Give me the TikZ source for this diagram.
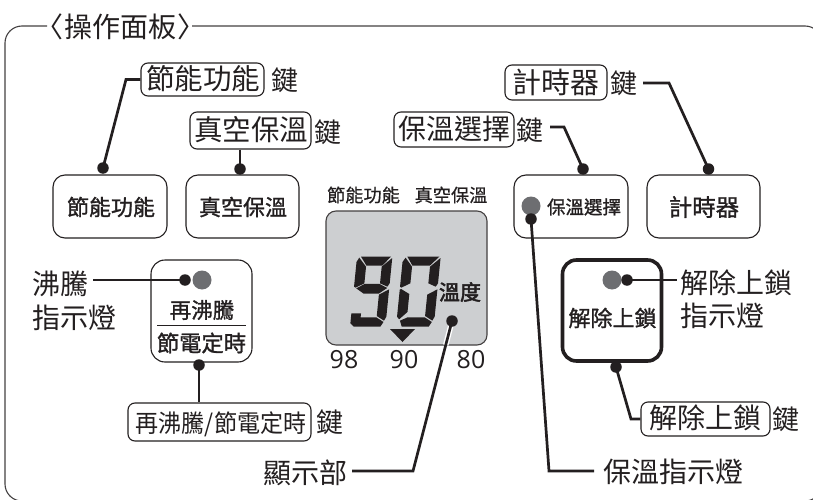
\documentclass[tikz,border=0pt]{standalone}
\usepackage{fontspec}
\usetikzlibrary{calc}
\setmainfont{Noto Sans CJK TC}
\newfontfamily\lowf[FakeBold=0.5]{Noto Sans CJK TC}
\newfontfamily\medf[FakeBold=1.2]{Noto Sans CJK TC}
\newfontfamily\hvyf[FakeBold=2.5]{Noto Sans CJK TC}
\newfontfamily\numf{Open Sans}
\newcommand{\fsz}[1]{\fontsize{#1}{#1}\selectfont}
\definecolor{ink}{HTML}{231F20}
\definecolor{lcdgray}{HTML}{CDCFD1}
\definecolor{ledgray}{HTML}{6D6E71}
\tikzset{
  lbl/.style={inner sep=0pt,text=ink,font=\fsz{#1}},
  medlbl/.style={inner sep=0pt,text=ink,font=\medf\fsz{#1}},
  lowlbl/.style={inner sep=0pt,text=ink,font=\lowf\fsz{#1}},
  numlbl/.style={inner sep=0pt,text=ink,font=\numf\fsz{25}},
  keybox/.style={draw=ink,line width=1.1pt,rounded corners=7pt,fill=white,inner sep=0pt},
  btnbox/.style={draw=ink,line width=1.1pt,rounded corners=12pt,fill=white,inner sep=0pt},
  dotn/.style={circle,fill=ink,inner sep=0pt,minimum size=11.5pt},
  led/.style={circle,fill=ledgray,inner sep=0pt,minimum size=19pt},
  wire/.style={draw=ink,line width=2.7pt,line join=miter},
  seg/.style={fill=ink}
}
\begin{document}
\begin{tikzpicture}[x=1pt,y=-1pt]
\useasboundingbox (0,0) rectangle (813,500);
\fill[white] (0,0) rectangle (813,500);
% outer frame
\draw[ink!85,line width=1.1pt,rounded corners=17pt] (192,26) -- (822,26) -- (822,501) -- (5,501) -- (5,26) -- (47,26);
\node[lbl=28] (titlea) at (120.5,27) {操作面板};
\node[lbl=28] (titleb) at (49,27) {〈};
\node[lbl=28] (titlec) at (191,27) {〉};
% buttons
\node[btnbox,minimum width=114pt,minimum height=63pt] (b1) at (110,206.5) {};
\node[btnbox,minimum width=113pt,minimum height=63pt] (b2) at (242.5,206.5) {};
\node[btnbox,minimum width=114pt,minimum height=63pt] (b3) at (571,206.5) {};
\node[btnbox,minimum width=113pt,minimum height=63pt] (b4) at (703.5,206.5) {};
\node[medlbl=22] (b1t) at (111,207) {節能功能};
\node[medlbl=22] (b2t) at (243,207) {真空保溫};
\node[medlbl=18.5] (b3t) at (584,207) {保溫選擇};
\node[medlbl=23.5] (b4t) at (704,207) {計時器};
\node[led] (led3) at (531,206) {};
% keys
\node[keybox,minimum width=123pt,minimum height=33pt] (k1) at (202.5,79.5) {};
\node[lbl=28.5] (k1t) at (203,79) {節能功能};
\node[lbl=27] (k1j) at (285,80) {鍵};
\node[keybox,minimum width=121pt,minimum height=37pt] (k2) at (250.5,130.5) {};
\node[lbl=28.5] (k2t) at (251,130) {真空保溫};
\node[lbl=27] (k2j) at (328,132) {鍵};
\node[keybox,minimum width=120pt,minimum height=35pt] (k3) at (454,129.5) {};
\node[lbl=28] (k3t) at (454,129) {保溫選擇};
\node[lbl=27] (k3j) at (530,130) {鍵};
\node[keybox,minimum width=102pt,minimum height=35pt] (k4) at (556,82.5) {};
\node[lbl=29] (k4t) at (556,82) {計時器};
\node[lbl=27] (k4j) at (624,83) {鍵};
% LCD
\node[draw=ink!85,line width=1.1pt,fill=lcdgray,rounded corners=10pt,minimum width=161pt,minimum height=134pt,inner sep=0pt] (lcd) at (406.5,278) {};
\node[lowlbl=18.2] (lcda) at (363.5,195) {節能功能};
\node[lowlbl=18.2] (lcdb) at (451,195) {真空保溫};
\node[inner sep=0pt,text=ink,font=\hvyf\fsz{21}] (lcdc) at (460,292) {溫度};
\fill[ink] (390,329) -- (415,329) -- (402.5,342) -- cycle;
\node[numlbl] (n98) at (344,360) {98};
\node[numlbl] (n90) at (404,360) {90};
\node[numlbl] (n80) at (471,360) {80};
\begin{scope}[shift={(352.7,250)},xslant=0.1,x=0.3333pt,y=-0.3333pt]
 % nine
 \fill[seg] (27,20) -- (117,20) -- (93,47) -- (46,47) -- cycle;
 \fill[seg] (22,23) -- (45,50) -- (45,100) -- (20,113) -- (15,110) -- (15,36) -- cycle;
 \fill[seg] (121,24) -- (121,100) -- (115,110) -- (92,100) -- (92,50) -- cycle;
 \fill[seg] (22,115) -- (46,102) -- (91,102) -- (115,114) -- (91,131) -- (46,131) -- cycle;
 \fill[seg] (121,118) -- (121,200) -- (115,212) -- (92,198) -- (92,134) -- cycle;
 \fill[seg] (15,190) -- (44,190) -- (44,202) -- (91,202) -- (114,216) -- (106,230) -- (26,230) -- (15,220) -- cycle;
 % zero
 \fill[seg] (166,20) -- (262,20) -- (236,47) -- (184,47) -- cycle;
 \fill[seg] (161,23) -- (183,50) -- (183,100) -- (157,113) -- (153,110) -- (153,36) -- cycle;
 \fill[seg] (266,24) -- (266,100) -- (260,110) -- (237,100) -- (237,50) -- cycle;
 \fill[seg] (153,119) -- (157,117) -- (183,132) -- (183,186) -- (160,208) -- (153,200) -- cycle;
 \fill[seg] (266,118) -- (266,200) -- (260,212) -- (237,198) -- (237,134) -- cycle;
 \fill[seg] (163,212) -- (185,202) -- (236,202) -- (259,216) -- (251,230) -- (170,230) -- cycle;
\end{scope}
% left indicator button
\node[btnbox,rounded corners=14pt,minimum width=101pt,minimum height=102pt] (b5) at (201.5,311) {};
\node[medlbl=21.5] (b5a) at (202,310) {再沸騰};
\node[medlbl=22.3] (b5b) at (201.5,343) {節電定時};
\coordinate (b5l) at (157,325.7);
\coordinate (b5r) at (246,325.7);
\draw[ink,line width=1.4pt] (b5l) -- (b5r);
\node[led] (led5) at (202,280) {};
% lock button
\node[draw=ink,line width=3.6pt,rounded corners=14pt,fill=white,minimum width=99pt,minimum height=101pt,inner sep=0pt] (b6) at (612,310.5) {};
\node[medlbl=22] (b6t) at (612.5,318) {解除上鎖};
\node[led] (led6) at (612,280) {};
% other keys
\node[keybox,minimum width=183pt,minimum height=38pt] (k5) at (219.5,422) {};
\node[lbl=24.5] (k5t) at (221,424) {\scalebox{0.94}[1]{再沸騰/節電定時}};
\node[lbl=27] (k5j) at (330,422) {鍵};
\node[keybox,minimum width=129pt,minimum height=34pt] (k6) at (705.5,419) {};
\node[lbl=28] (k6t) at (705,418) {解除上鎖};
\node[lbl=27] (k6j) at (786,419) {鍵};
% free labels
\node[lbl=28,anchor=west] (boil1) at (32,284) {沸騰};
\node[lbl=28,anchor=west] (boil2) at (32,318) {指示燈};
\node[lbl=28,anchor=west] (lock1) at (680,283) {解除上鎖};
\node[lbl=28,anchor=west] (lock2) at (680,316) {指示燈};
\node[lbl=28] (disp) at (305,473) {顯示部};
\node[lbl=28] (keep) at (673,472) {保溫指示燈};
% dots
\node[dotn] (d1) at (103,168) {};
\node[dotn] (d2) at (240,169) {};
\node[dotn] (d3) at (583,169) {};
\node[dotn] (d4) at (708.5,169) {};
\node[dotn] (d5) at (531,219) {};
\node[dotn] (d6) at (185,280) {};
\node[dotn] (d7) at (199,365) {};
\node[dotn] (d8) at (627,280) {};
\node[dotn] (d9) at (616,367) {};
\coordinate (dbend) at (413,471);
% connectors
\draw[wire] (k1.west) -- (126,79.5) -- (d1.center);
\draw[wire] (k2.south -| d2) -- (d2.center);
\draw[wire] (550,127) -- (564,127) -- (d3.center);
\draw[wire] (643,83) -- (669,83) -- (d4.center);
\draw[wire] (d5.center) -- (549,471) -- (594,471);
\draw[wire] (93,280) -- (d6.center);
\draw[wire] (d7.center) -- (k5.north -| d7.center);
\draw[wire] (d8.center) -- (677,280);
\draw[wire] (d9.center) -- (631,419) -- (k6.west);
\coordinate (d10c) at (452,321);
\draw[white,line width=5.5pt] (d10c) -- ($(d10c)!0.16!(dbend)$);
\node[dotn] (d10) at (d10c) {};
\draw[wire] (352,471) -- (dbend) -- (d10.center);
\end{tikzpicture}
\end{document}
